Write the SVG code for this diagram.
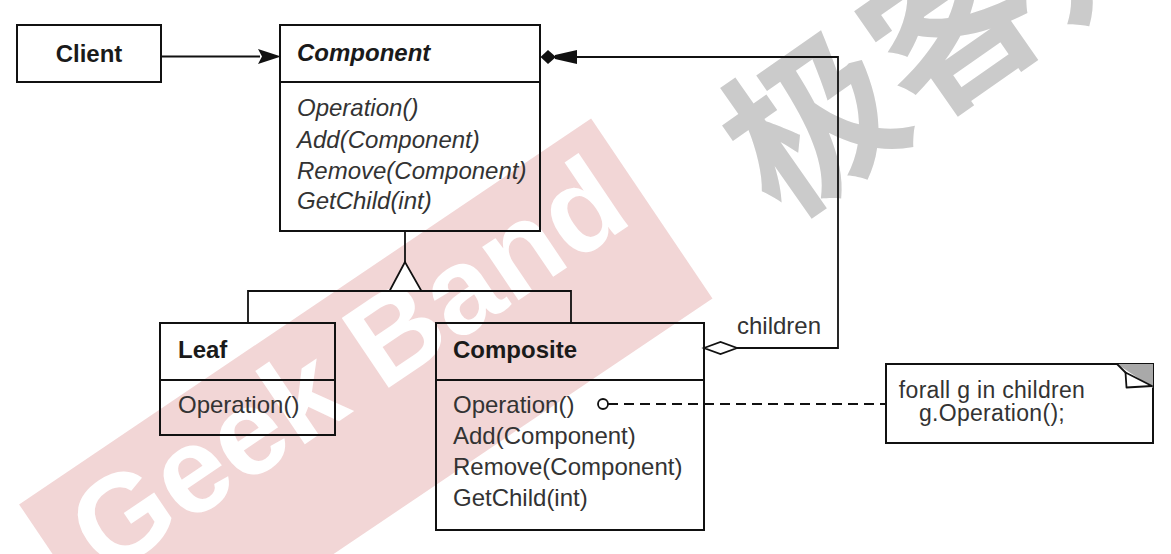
<svg xmlns="http://www.w3.org/2000/svg" width="1171" height="554" viewBox="0 0 1171 554">
<style>
.box{fill:none;stroke:#111;stroke-width:2}
.t{font-family:"Liberation Sans",Arial,Helvetica,sans-serif;font-size:24px;fill:#1a1a1a}
.b{font-weight:bold}
.i{font-style:italic}
.op{fill:#333}
.nt{font-size:23px;letter-spacing:0.3px}
.ln{fill:none;stroke:#111;stroke-width:1.8}
.dash{stroke-dasharray:10 6}
.solid{fill:#111;stroke:none}
</style>
<rect width="1171" height="554" fill="#ffffff"/>
<g id="watermark">
  <g transform="translate(365.5,401) rotate(-34)">
    <rect x="-345" y="-108" width="690" height="217" fill="#f2d6d6"/>
    <text x="5" y="2" text-anchor="middle" font-family="Liberation Sans,Arial,sans-serif" font-weight="bold" font-size="122" fill="#ffffff">Geek Band</text>
  </g>
  <g transform="translate(812,122) rotate(-35)">
    <text x="-84" y="64" font-family="Noto Sans CJK SC,sans-serif" font-weight="bold" font-size="170" fill="#cbcbcb">极客邦</text>
  </g>
</g>
<g id="connectors">
  <path class="ln" d="M161 56.5 H260"/>
  <polygon class="solid" points="258,49 281,56.5 258,64 262,56.5"/>
  <path class="ln" d="M737 348 H838 V57 H570"/>
  <polygon class="solid" points="540.5,57 548,50 556,57 548,64"/>
  <polygon class="solid" points="555,55 577,50 577,64 555,59"/>
  <polygon points="704,348 720.5,342 737,348 720.5,354" fill="#fff" stroke="#111" stroke-width="1.8"/>
  <path class="ln" d="M405 231 V262"/>
  <path class="ln" d="M248 323 V291 H571 V323"/>
  <polygon points="405,262 389.5,291 421.5,291" fill="#fff" stroke="#111" stroke-width="1.8"/>
  <path class="ln dash" d="M608 404 H886"/>
  <circle cx="603" cy="404" r="5" fill="#fff" stroke="#111" stroke-width="1.8"/>
</g>
<g id="client">
  <rect class="box" x="17" y="25" width="144" height="57"/>
  <text class="t b" x="89" y="62" text-anchor="middle">Client</text>
</g>
<g id="component">
  <rect class="box" x="280" y="25" width="260" height="206"/>
  <line class="box" x1="280" y1="82" x2="540" y2="82"/>
  <text class="t b i" x="297" y="61">Component</text>
  <text class="t i op" x="297" y="116">Operation()</text>
  <text class="t i op" x="297" y="148">Add(Component)</text>
  <text class="t i op" x="297" y="179">Remove(Component)</text>
  <text class="t i op" x="297" y="209">GetChild(int)</text>
</g>
<g id="leaf">
  <rect class="box" x="160" y="323" width="175" height="112"/>
  <line class="box" x1="160" y1="380" x2="335" y2="380"/>
  <text class="t b" x="178" y="358">Leaf</text>
  <text class="t op" x="178" y="413">Operation()</text>
</g>
<g id="composite">
  <rect class="box" x="436" y="323" width="268" height="207"/>
  <line class="box" x1="436" y1="380" x2="704" y2="380"/>
  <text class="t b" x="453" y="358">Composite</text>
  <text class="t op" x="453" y="413">Operation()</text>
  <text class="t op" x="453" y="444">Add(Component)</text>
  <text class="t op" x="453" y="475">Remove(Component)</text>
  <text class="t op" x="453" y="506">GetChild(int)</text>
</g>
<g id="children-label">
  <text class="t op" x="737" y="334">children</text>
</g>
<g id="note">
  <rect class="box" x="886" y="364" width="267" height="79"/>
  <polygon points="1117,364 1153,364 1153,388" fill="#a9a9a9"/>
  <polygon points="1125.5,372.5 1126.5,387.5 1152,386" fill="#fff" stroke="#111" stroke-width="1.8" stroke-linejoin="round"/>
  <line x1="1117" y1="364" x2="1126" y2="373" stroke="#111" stroke-width="1.8"/>
  <text class="t op nt" x="992" y="398" text-anchor="middle">forall g in children</text>
  <text class="t op nt" x="992" y="421" text-anchor="middle">g.Operation();</text>
</g>
</svg>
